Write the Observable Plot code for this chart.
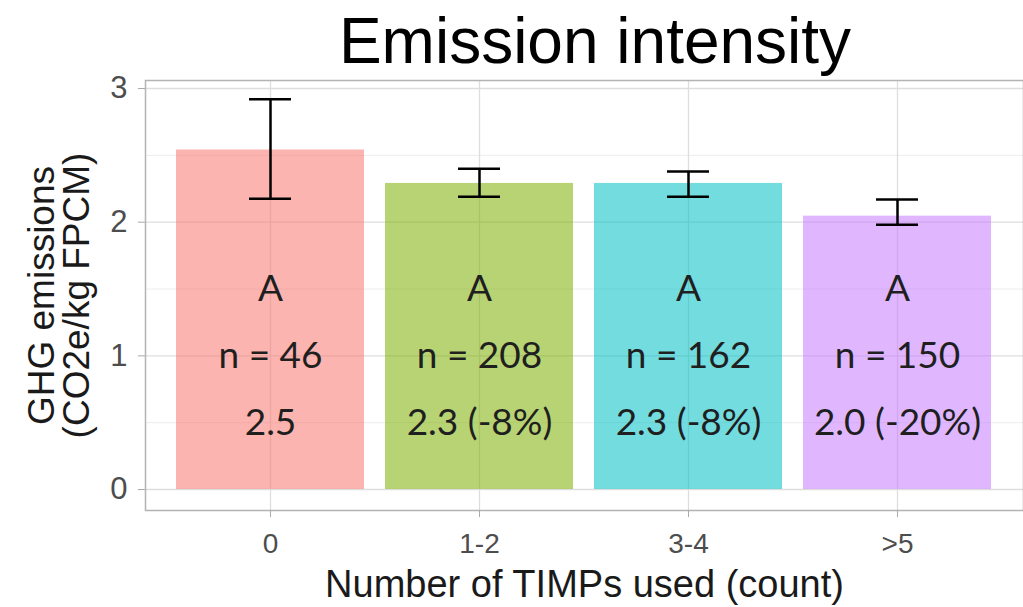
<!DOCTYPE html>
<html>
<head>
<meta charset="utf-8">
<script src="https://cdn.jsdelivr.net/npm/d3@7"></script>
<script src="https://cdn.jsdelivr.net/npm/@observablehq/plot@0.6"></script>
<style>
  body { margin: 0; background: #fff; }
  #title {
    height: 64px;
    line-height: 83px;
    padding-left: 167px;
    text-align: center;
    font-family: "Liberation Sans", Arial, sans-serif;
    font-size: 64px;
    color: #000;
    white-space: nowrap;
  }
  #chart svg { display: block; }
</style>
</head>
<body>
<div id="title">Emission intensity</div>
<div id="chart"></div>
<script>
// TIMP usage groups and their mean emission intensity (kg CO2e / kg FPCM)
const groups = ["0", "1-2", "3-4", ">5"];
const means = [2.54, 2.29, 2.29, 2.045];
const lower = [2.175, 2.19, 2.19, 1.98];
const upper = [2.92, 2.40, 2.38, 2.17];
const sampleSizes = [46, 208, 162, 150];
const changes = ["", " (-8%)", " (-8%)", " (-20%)"];
const letters = ["A", "A", "A", "A"];
const fills = ["#F8766D", "#7CAE00", "#00BFC4", "#C77CFF"];

const yTicks = [0, 1, 2, 3];
const yMinor = [0.5, 1.5, 2.5];
const xTitle = "Number of TIMPs used (count)";
const yTitle = "GHG emissions\n(CO2e/kg FPCM)";

const rows = groups.map((g, i) => ({
  group: g,
  mean: means[i],
  lo: lower[i],
  hi: upper[i],
  n: sampleSizes[i],
  change: changes[i],
  letter: letters[i]
}));

const labelFont = {fontFamily: "Lato, 'Open Sans', sans-serif", fontSize: 37, fill: "#1f1f1f"};
const errStyle = {stroke: "#000", strokeWidth: 2.5};

const chart = Plot.plot({
  width: 1023,
  height: 543,
  marginLeft: 145,
  marginRight: 0,
  marginTop: 16,
  marginBottom: 97,
  style: {fontFamily: "'Liberation Sans', Arial, sans-serif", background: "#fff"},
  x: {domain: groups, paddingInner: 0.1, paddingOuter: 0.15, label: null},
  y: {domain: [-0.157, 3.06], label: null},
  color: {domain: groups, range: fills},
  marks: [
    Plot.ruleY(yMinor, {stroke: "#ececec", strokeWidth: 1}),
    Plot.gridY(yTicks, {stroke: "#dedede", strokeOpacity: 1, strokeWidth: 1.3}),
    Plot.gridX({stroke: "#dedede", strokeOpacity: 1, strokeWidth: 1.3}),
    Plot.barY(rows, {x: "group", y: "mean", fill: "group", fillOpacity: 0.55}),
    Plot.ruleX(rows, {x: "group", y1: "lo", y2: "hi", ...errStyle}),
    Plot.tickY(rows, {x: "group", y: "lo", insetLeft: 73, insetRight: 73, ...errStyle}),
    Plot.tickY(rows, {x: "group", y: "hi", insetLeft: 73, insetRight: 73, ...errStyle}),
    Plot.text(rows, {x: "group", y: () => 1.5, text: "letter", ...labelFont}),
    Plot.text(rows, {x: "group", y: () => 1, text: d => `n = ${d.n}`, ...labelFont}),
    Plot.text(rows, {x: "group", y: () => 0.5, text: d => d.mean.toFixed(1) + d.change, ...labelFont}),
    Plot.frame({stroke: "#b3b3b3", strokeWidth: 1.5}),
    Plot.axisY(yTicks, {tickSize: 7, tickPadding: 11, tickFormat: "d", fontSize: 31, fill: "#4d4d4d", stroke: "#aaaaaa", label: null}),
    Plot.axisX({tickSize: 7, tickPadding: 16, fontSize: 28, fill: "#4d4d4d", stroke: "#aaaaaa", label: null}),
    Plot.text([yTitle], {frameAnchor: "left", textAnchor: "middle", lineAnchor: "middle", rotate: -90, dx: -85, fontSize: 37, lineHeight: 0.95, fill: "#1a1a1a"}),
    Plot.text([xTitle], {frameAnchor: "bottom", textAnchor: "middle", dy: 86, fontSize: 38, fill: "#1a1a1a"})
  ]
});

document.getElementById("chart").append(chart);
</script>
</body>
</html>
